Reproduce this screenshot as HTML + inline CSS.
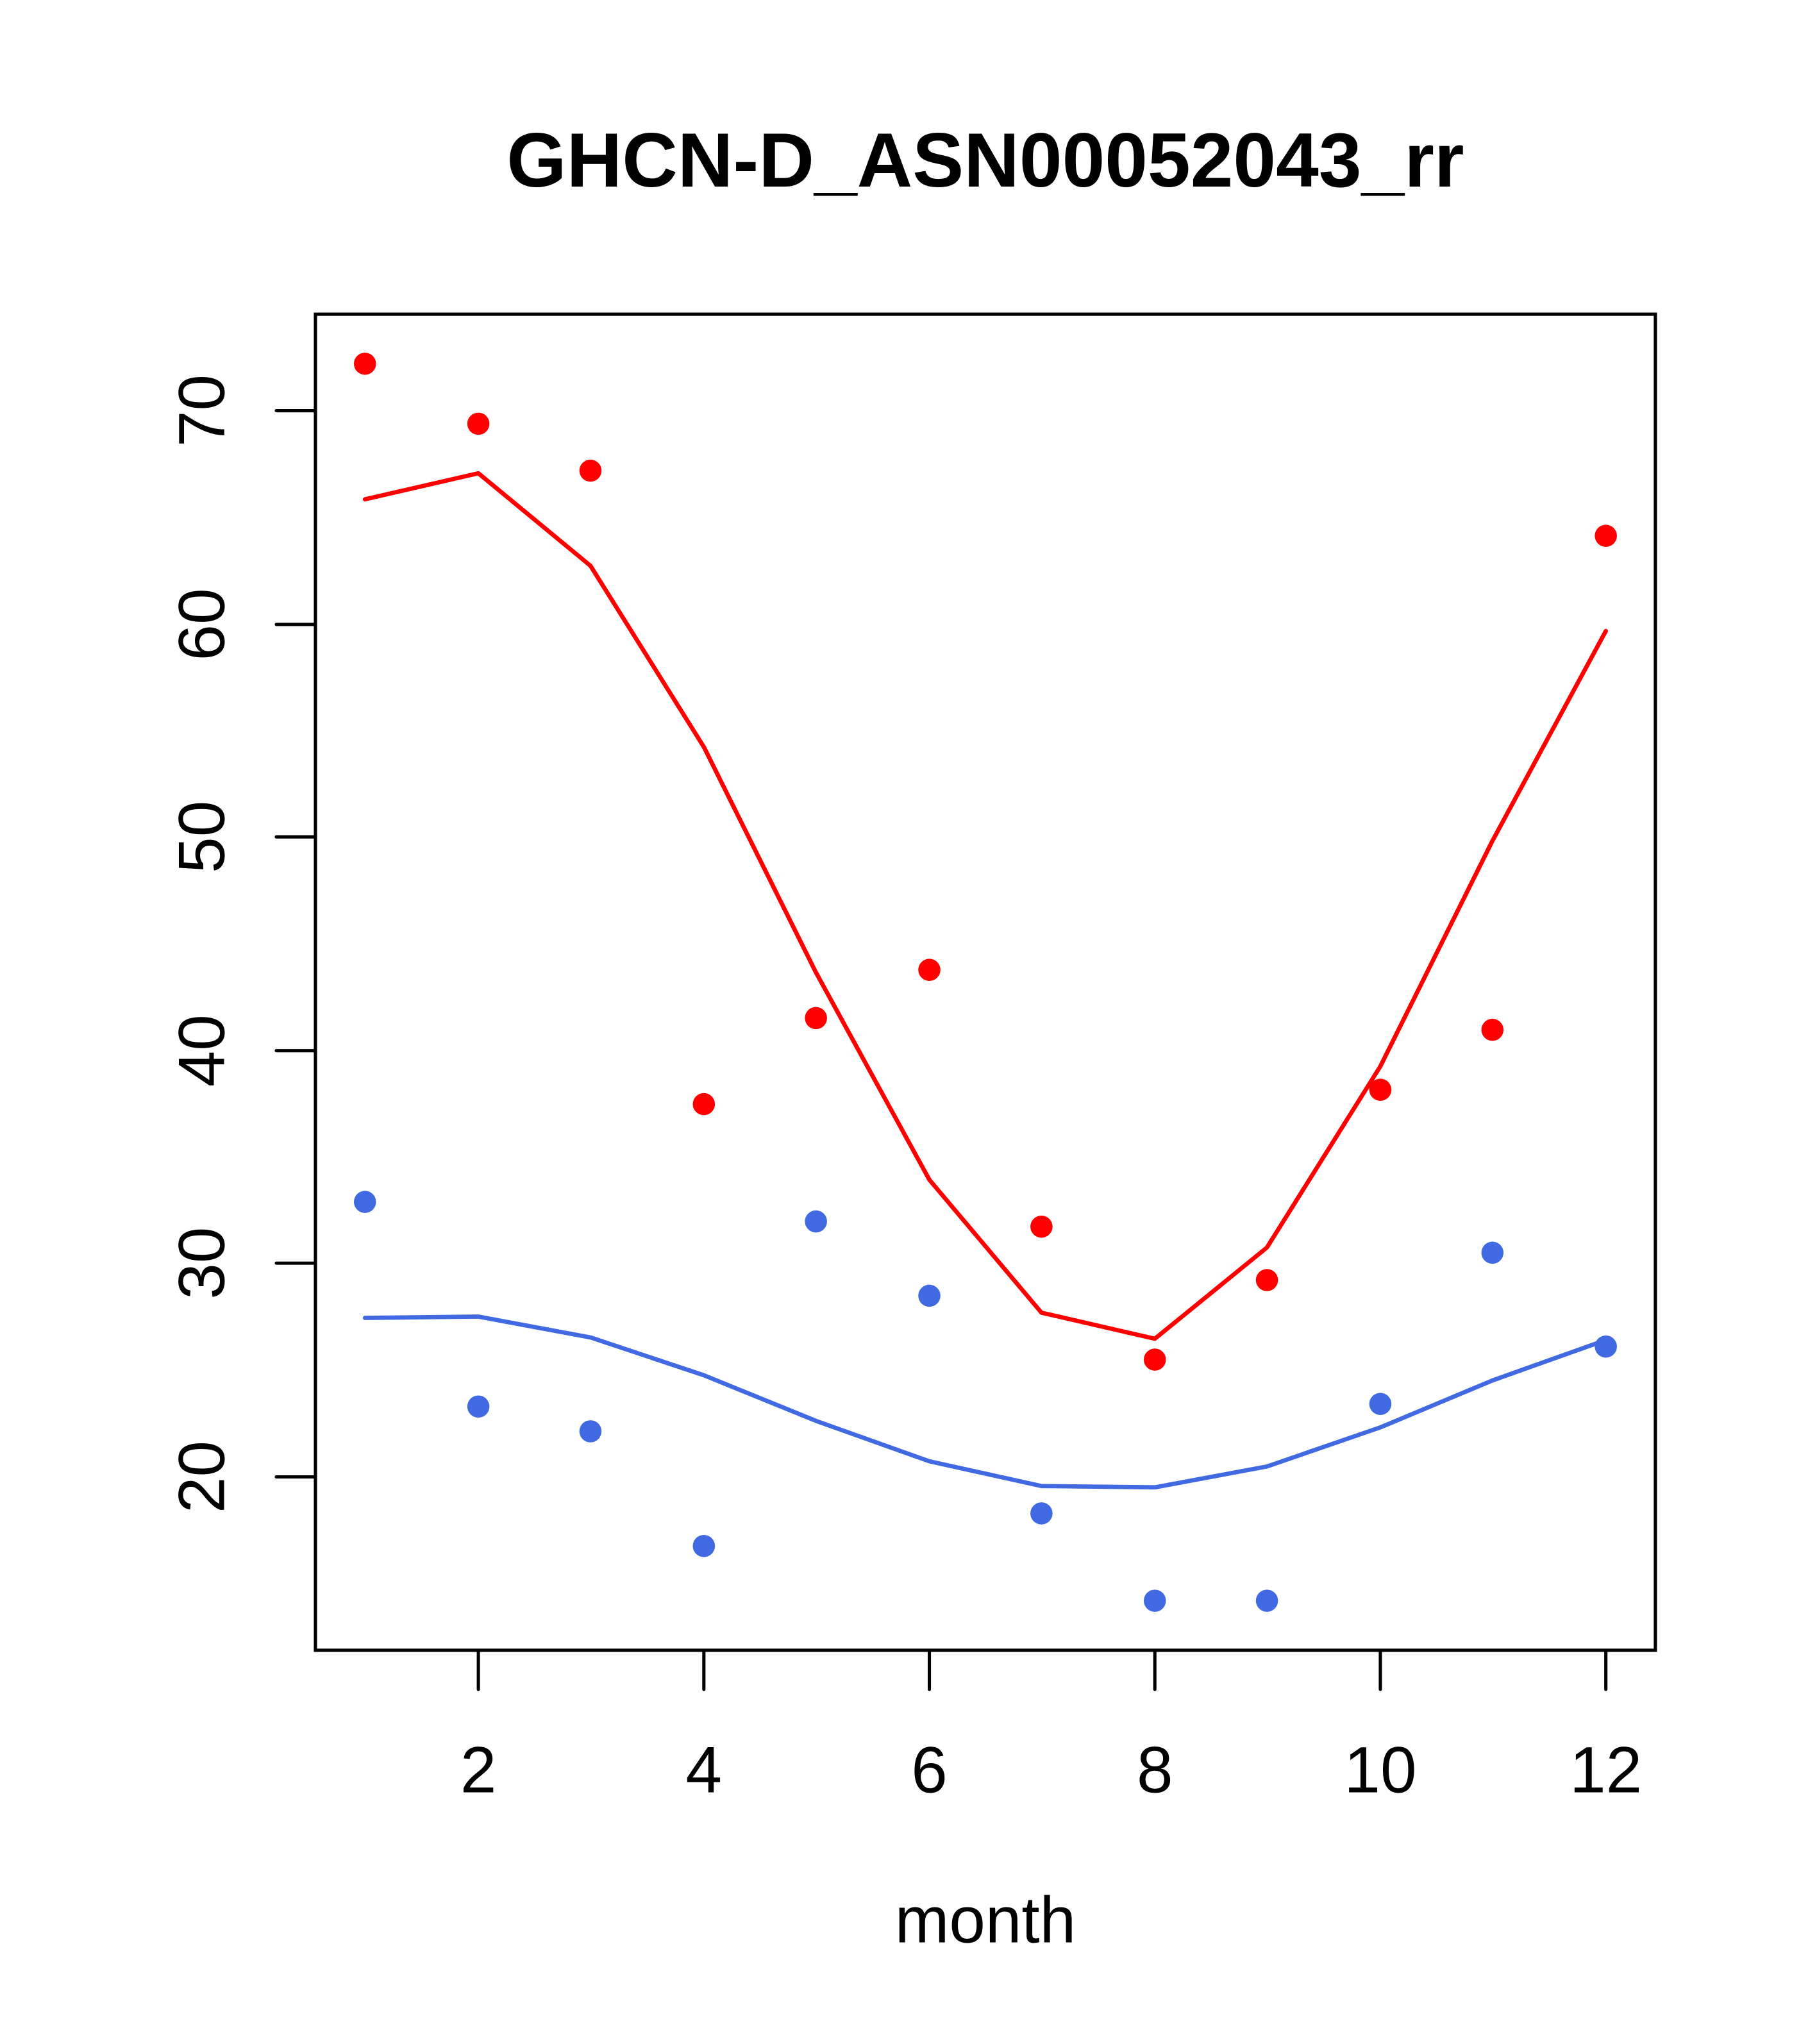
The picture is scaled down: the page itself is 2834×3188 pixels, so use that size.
<!DOCTYPE html>
<html><head><style>html,body{margin:0;padding:0;background:#fff}svg{display:block}</style></head>
<body>
<svg width="2834" height="3188" viewBox="0 0 1394 1568" xmlns="http://www.w3.org/2000/svg" font-family="Liberation Sans, sans-serif">
<rect width="1394" height="1568" fill="#fff"/>
<text x="756" y="143" font-size="59" font-weight="bold" text-anchor="middle">GHCN-D_ASN00052043_rr</text>
<rect x="242" y="241" width="1028" height="1025" fill="none" stroke="#000" stroke-width="2.5"/>
<g stroke="#000" stroke-width="2.5" stroke-linecap="round">
<line x1="367" y1="1266" x2="367" y2="1296"/><line x1="540" y1="1266" x2="540" y2="1296"/>
<line x1="713" y1="1266" x2="713" y2="1296"/><line x1="886" y1="1266" x2="886" y2="1296"/>
<line x1="1059" y1="1266" x2="1059" y2="1296"/><line x1="1232" y1="1266" x2="1232" y2="1296"/>
<line x1="242" y1="315" x2="212" y2="315"/><line x1="242" y1="479" x2="212" y2="479"/>
<line x1="242" y1="642" x2="212" y2="642"/><line x1="242" y1="806" x2="212" y2="806"/>
<line x1="242" y1="969" x2="212" y2="969"/><line x1="242" y1="1133" x2="212" y2="1133"/>
</g>
<g font-size="50" text-anchor="middle">
<text x="367" y="1375">2</text><text x="540" y="1375">4</text><text x="713" y="1375">6</text>
<text x="886" y="1375">8</text><text x="1059" y="1375">10</text><text x="1232" y="1375">12</text>
<text transform="translate(172,315) rotate(-90)">70</text>
<text transform="translate(172,479) rotate(-90)">60</text>
<text transform="translate(172,642) rotate(-90)">50</text>
<text transform="translate(172,806) rotate(-90)">40</text>
<text transform="translate(172,969) rotate(-90)">30</text>
<text transform="translate(172,1133) rotate(-90)">20</text>
<text x="756" y="1490">month</text>
</g>
<polyline fill="none" stroke="#f00" stroke-width="3.3" stroke-linejoin="round" stroke-linecap="round" points="280,383 367,363 453,434 540,573 626,746 713,905 799,1007 886,1027 972,957 1059,818 1145,645 1232,484"/>
<polyline fill="none" stroke="#4169E1" stroke-width="3.3" stroke-linejoin="round" stroke-linecap="round" points="280,1011 367,1010 453,1026 540,1055 626,1090 713,1121 799,1140 886,1141 972,1125 1059,1095 1145,1059 1232,1028"/>
<g fill="#f00">
<circle cx="280" cy="279" r="8.5"/><circle cx="367" cy="325" r="8.5"/><circle cx="453" cy="361" r="8.5"/>
<circle cx="540" cy="847" r="8.5"/><circle cx="626" cy="781" r="8.5"/><circle cx="713" cy="744" r="8.5"/>
<circle cx="799" cy="941" r="8.5"/><circle cx="886" cy="1043" r="8.5"/><circle cx="972" cy="982" r="8.5"/>
<circle cx="1059" cy="836" r="8.5"/><circle cx="1145" cy="790" r="8.5"/><circle cx="1232" cy="411" r="8.5"/>
</g>
<g fill="#4169E1">
<circle cx="280" cy="922" r="8.5"/><circle cx="367" cy="1079" r="8.5"/><circle cx="453" cy="1098" r="8.5"/>
<circle cx="540" cy="1186" r="8.5"/><circle cx="626" cy="937" r="8.5"/><circle cx="713" cy="994" r="8.5"/>
<circle cx="799" cy="1161" r="8.5"/><circle cx="886" cy="1228" r="8.5"/><circle cx="972" cy="1228" r="8.5"/>
<circle cx="1059" cy="1077" r="8.5"/><circle cx="1145" cy="961" r="8.5"/><circle cx="1232" cy="1033" r="8.5"/>
</g>
</svg>
</body></html>
